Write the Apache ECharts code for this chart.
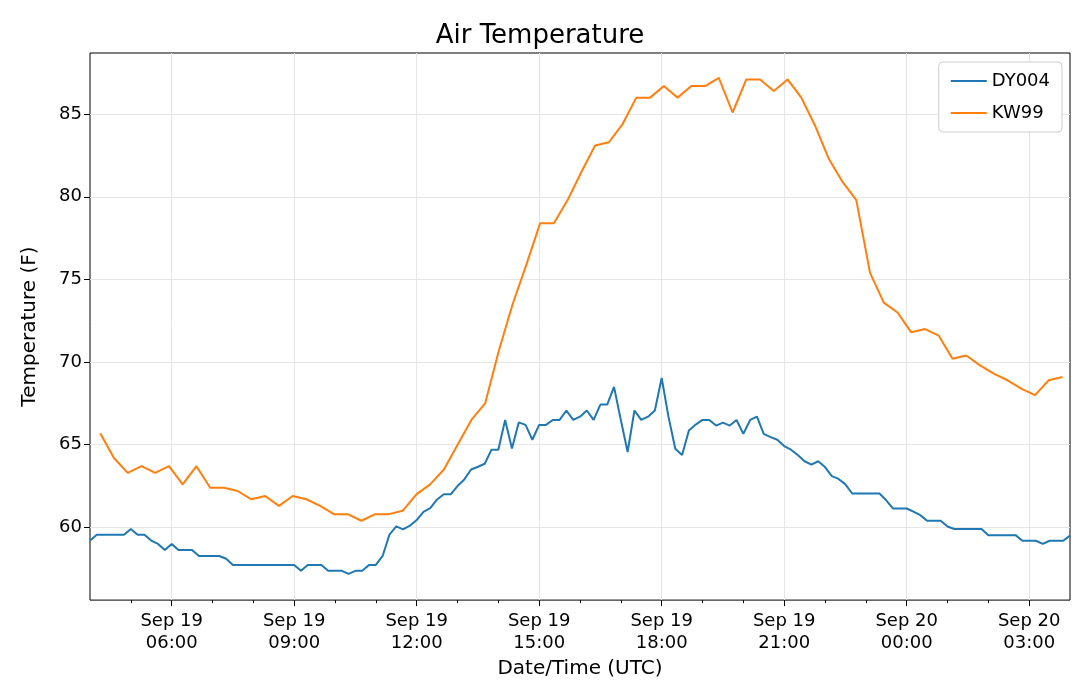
<!DOCTYPE html>
<html>
<head>
<meta charset="utf-8">
<script src="https://cdn.jsdelivr.net/npm/echarts@6/dist/echarts.min.js"></script>
<style>html,body{margin:0;background:#fff}#chart{width:1080px;height:684px}</style>
</head>
<body>
<div id="chart"></div>
<script>
// hours since Sep 19 00:00 UTC
var dyStart = 4, dyStep = 1 / 6;
var dy004 = [59.2, 59.56, 59.56, 59.56, 59.56, 59.56, 59.9, 59.56, 59.56, 59.2, 59.0, 58.63, 59.0, 58.63, 58.63, 58.63,
    58.27, 58.27, 58.27, 58.27, 58.1, 57.73, 57.73, 57.73, 57.73, 57.73, 57.73, 57.73, 57.73, 57.73, 57.73,
    57.37, 57.73, 57.73, 57.73, 57.37, 57.37, 57.37, 57.19, 57.37, 57.37, 57.73, 57.73, 58.27, 59.56,
    60.06, 59.88, 60.1, 60.44, 60.94, 61.16, 61.69, 62.0, 62.0, 62.5, 62.9, 63.5, 63.67, 63.85, 64.7, 64.7,
    66.5, 64.77, 66.35, 66.2, 65.3, 66.2, 66.2, 66.5, 66.5, 67.07, 66.5, 66.7,
    67.07, 66.5, 67.43, 67.43, 68.5, 66.5, 64.56, 67.07, 66.5, 66.7, 67.07, 69.04, 66.7, 64.76, 64.38, 65.86,
    66.22, 66.5, 66.5, 66.16, 66.34, 66.16, 66.5, 65.66, 66.5, 66.7, 65.66, 65.46, 65.3, 64.92, 64.7, 64.38,
    64.0, 63.8, 64.0, 63.65, 63.1, 62.93, 62.6, 62.05, 62.05, 62.05, 62.05, 62.05, 61.64, 61.14, 61.14, 61.14,
    60.95, 60.74, 60.4, 60.4, 60.4, 60.05, 59.9, 59.9, 59.9, 59.9, 59.9, 59.53, 59.53, 59.53, 59.53, 59.53,
    59.19, 59.19, 59.19, 59.0, 59.19, 59.19, 59.19, 59.5];
var kwStart = 4.25, kwStep = 20.2 / 60;
var kw99 = [65.7, 64.2, 63.3, 63.7, 63.3, 63.7, 62.6, 63.7, 62.4, 62.4, 62.2, 61.7, 61.9, 61.3, 61.9, 61.7,
    61.3, 60.8, 60.8, 60.4, 60.8, 60.8, 61.0, 62.0, 62.6, 63.5, 65.0, 66.5, 67.5, 70.7, 73.5, 75.9,
    78.4, 78.4, 79.8, 81.5, 83.1, 83.3, 84.4, 86.0, 86.0, 86.7, 86.0, 86.7, 86.7, 87.2, 85.1, 87.1, 87.1,
    86.4, 87.1, 86.0, 84.3, 82.3, 80.9, 79.8, 75.4, 73.6, 73.0, 71.8, 72.0, 71.6, 70.2, 70.4, 69.8, 69.3,
    68.9, 68.4, 68.0, 68.9, 69.1];
var xTicks = [6, 9, 12, 15, 18, 21, 24, 27];
var xMinor = [5, 7, 8, 10, 11, 13, 14, 16, 17, 19, 20, 22, 23, 25, 26];
var yTicks = [60, 65, 70, 75, 80, 85];

function pairs(start, step, vals) {
    return vals.map(function (v, i) { return [start + i * step, v]; });
}
function pad(n) { return (n < 10 ? '0' : '') + n; }

var FONT = 'DejaVu Sans';
var chart = echarts.init(document.getElementById('chart'));
chart.setOption({
    animation: false,
    textStyle: {fontFamily: FONT},
    title: {text: 'Air Temperature', left: 'center', top: 18,
        textStyle: {fontFamily: FONT, fontSize: 26, fontWeight: 'normal', color: '#000'}},
    legend: {
        right: 18, top: 62, orient: 'vertical', itemWidth: 36, itemHeight: 2, itemGap: 14,
        backgroundColor: '#fff', borderColor: '#ccc', borderWidth: 1, borderRadius: 4, padding: [10, 12],
        textStyle: {fontSize: 18, color: '#000'},
        data: [{name: 'DY004', icon: 'rect'}, {name: 'KW99', icon: 'rect'}]
    },
    grid: {left: 90, right: 10, top: 53, bottom: 81, show: true, borderColor: '#000', borderWidth: 1},
    xAxis: [{
        type: 'value', min: dyStart, max: dyStart + (dy004.length - 1) * dyStep,
        name: 'Date/Time (UTC)', nameLocation: 'middle', nameGap: 58,
        nameTextStyle: {fontSize: 20, color: '#000'},
        axisLine: {show: false},
        axisTick: {show: true, length: 6, lineStyle: {color: '#000'}, customValues: xTicks},
        axisLabel: {fontSize: 18, color: '#000', lineHeight: 22, margin: 10, customValues: xTicks,
            formatter: function (h) {
                return h < 24 ? 'Sep 19\n' + pad(h) + ':00' : 'Sep 20\n' + pad(h - 24) + ':00';
            }},
        splitLine: {show: true, lineStyle: {color: '#e6e6e6'}}
    }, {
        type: 'value', position: 'bottom', min: dyStart, max: dyStart + (dy004.length - 1) * dyStep,
        axisLine: {show: false}, axisLabel: {show: false}, splitLine: {show: false},
        axisTick: {show: true, length: 3, lineStyle: {color: '#000'}, customValues: xMinor}
    }],
    yAxis: {
        type: 'value', min: 55.6, max: 88.7,
        name: 'Temperature (F)', nameLocation: 'middle', nameGap: 50, nameRotate: 90,
        nameTextStyle: {fontSize: 20, color: '#000'},
        axisLine: {show: false},
        axisTick: {show: true, length: 6, lineStyle: {color: '#000'}, customValues: yTicks},
        axisLabel: {fontSize: 18, color: '#000', customValues: yTicks},
        splitLine: {show: true, lineStyle: {color: '#e6e6e6'}}
    },
    series: [
        {name: 'DY004', type: 'line', showSymbol: false, color: '#1f77b4',
            lineStyle: {width: 2}, data: pairs(dyStart, dyStep, dy004)},
        {name: 'KW99', type: 'line', showSymbol: false, color: '#ff7f0e',
            lineStyle: {width: 2}, data: pairs(kwStart, kwStep, kw99)}
    ]
});
</script>
</body>
</html>
